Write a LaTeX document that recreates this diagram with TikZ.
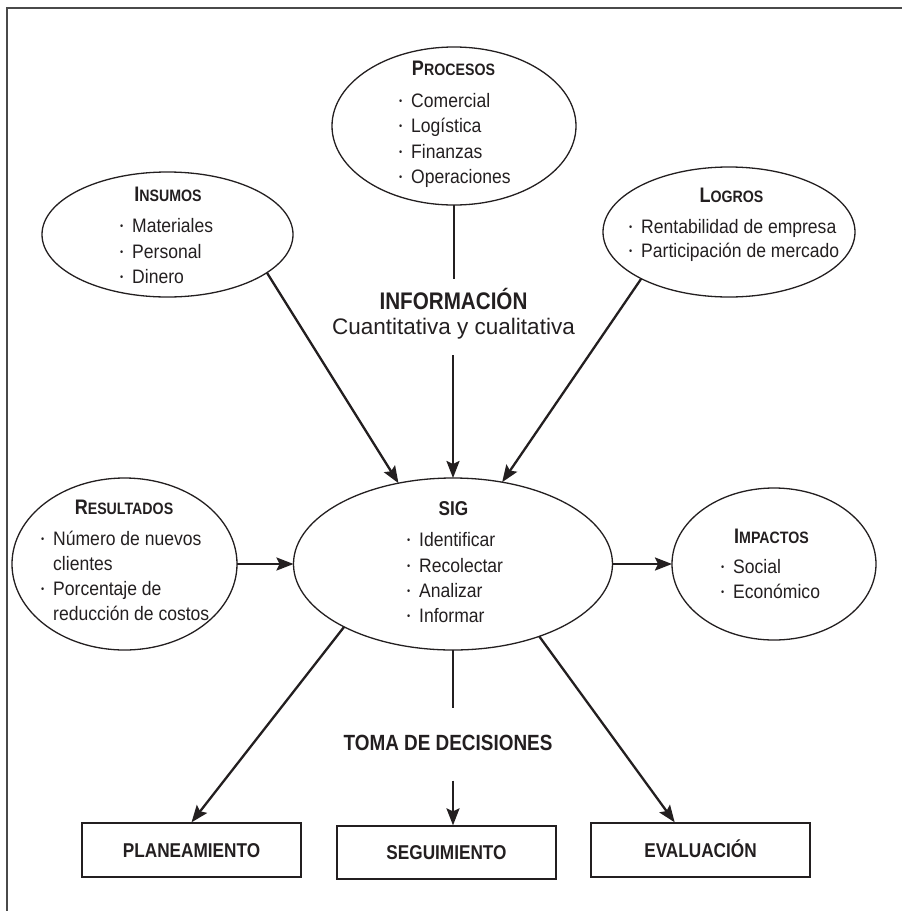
\documentclass[tikz,border=0pt]{standalone}
\usepackage{fontspec}
\setmainfont{Liberation Sans}
\newfontfamily\narrowfont{Liberation Sans}[FakeStretch=0.9]
\newfontfamily\condfont{Liberation Sans}[FakeStretch=0.86]
\usetikzlibrary{shapes.geometric,arrows.meta,calc}

\definecolor{ink}{HTML}{231F20}
\definecolor{framegray}{HTML}{4A4A4A}

% body text, list bullet and small-caps style headings
\newcommand\bodysize{\narrowfont\fontsize{19.5}{23}\selectfont}
\newcommand\blt{\llap{\raisebox{2.4pt}{\fontsize{10}{10}\selectfont\textbullet}\hspace{9pt}}}
\newcommand\hdr[2]{{\fontsize{21}{21}\selectfont #1}{\fontsize{16.5}{16.5}\selectfont #2}}

\tikzset{
  ell/.style={ellipse, draw=ink, line width=1.3pt, inner sep=0pt, outer sep=0pt},
  entry/.style={anchor=base west, inner sep=0pt, font=\bodysize, text=ink},
  head/.style={anchor=base, inner sep=0pt, font=\condfont\bfseries, text=ink},
  stagebox/.style={draw=ink, line width=1.3pt, minimum width=219pt, minimum height=54pt,
    inner sep=0pt, text height=14.3pt, text depth=0pt,
    font=\condfont\bfseries\fontsize{20}{20}\selectfont, text=ink},
  link/.style={draw=ink, line width=2.3pt, -{Stealth[length=17pt,width=13pt,inset=3pt]}},
  bar/.style={draw=ink, line width=2.3pt},
  frame/.style={draw=framegray, line width=2pt}
}

\begin{document}
\begin{tikzpicture}[x=1pt,y=-1pt]
\useasboundingbox (0,0) rectangle (902,911);

% page frame (top and left rules)
\draw[frame] (7,911) -- (7,8) -- (902,8);

% ellipses
\node[ell, minimum width=244pt, minimum height=158pt] (proc) at (454,126) {};
\node[ell, minimum width=251pt, minimum height=125pt] (ins) at (167.5,234.5) {};
\node[ell, minimum width=252pt, minimum height=130pt] (log) at (729,232) {};
\node[ell, minimum width=225pt, minimum height=172pt] (res) at (124.5,564) {};
\node[ell, minimum width=319pt, minimum height=172pt] (sig) at (453,564) {};
\node[ell, minimum width=204pt, minimum height=152pt] (imp) at (774,564) {};

% PROCESOS
\node[head] (procH) at (453.5,75) {\hdr{P}{ROCESOS}};
\node[entry] (proc1) at (411,107) {\blt Comercial};
\node[entry] (proc2) at (411,132) {\blt Logística};
\node[entry] (proc3) at (411,158) {\blt Finanzas};
\node[entry] (proc4) at (411,183) {\blt Operaciones};

% INSUMOS
\node[head] (insH) at (168,201) {\hdr{I}{NSUMOS}};
\node[entry] (ins1) at (132,232) {\blt Materiales};
\node[entry] (ins2) at (132,258) {\blt Personal};
\node[entry] (ins3) at (132,283) {\blt Dinero};

% LOGROS
\node[head] (logH) at (731.5,202) {\hdr{L}{OGROS}};
\node[entry] (log1) at (641,233) {\blt Rentabilidad de empresa};
\node[entry] (log2) at (641,257) {\blt Participación de mercado};

% RESULTADOS
\node[head] (resH) at (124,514) {\hdr{R}{ESULTADOS}};
\node[entry] (res1) at (53,545) {\blt Número de nuevos};
\node[entry] (res2) at (53,570) {clientes};
\node[entry] (res3) at (53,595) {\blt Porcentaje de};
\node[entry] (res4) at (53,620) {reducción de costos};

% SIG
\node[head, font=\condfont\bfseries\fontsize{20}{20}\selectfont] (sigH) at (453.5,515) {SIG};
\node[entry] (sig1) at (419,546) {\blt Identificar};
\node[entry] (sig2) at (419,572) {\blt Recolectar};
\node[entry] (sig3) at (419,597) {\blt Analizar};
\node[entry] (sig4) at (419,622) {\blt Informar};

% IMPACTOS
\node[head] (impH) at (771.5,543) {\hdr{I}{MPACTOS}};
\node[entry] (imp1) at (733,573) {\blt Social};
\node[entry] (imp2) at (733,598) {\blt Económico};

% middle labels
\node[anchor=base, inner sep=0pt, text height=17.5pt, text depth=5pt, inner ysep=12.5pt,
      font=\condfont\bfseries\fontsize{24}{24}\selectfont, text=ink] (info1) at (453.5,309) {INFORMACIÓN};
\node[anchor=base, inner sep=0pt, text height=16pt, text depth=5pt, inner ysep=16pt,
      font=\fontsize{22.5}{22.5}\selectfont, text=ink] (info2) at (453.5,334) {Cuantitativa y cualitativa};
\node[anchor=base, inner sep=0pt, text height=16.5pt, text depth=5.5pt, inner ysep=25pt,
      font=\condfont\bfseries\fontsize{22}{22}\selectfont, text=ink] (toma) at (448,750) {TOMA DE DECISIONES};

% decision stages
\node[stagebox] (plan) at (191.5,850) {PLANEAMIENTO};
\node[stagebox, minimum height=53pt] (seg) at (446.5,852.5) {SEGUIMIENTO};
\node[stagebox] (eval) at (700.5,850) {EVALUACIÓN};

% connectors into SIG
\draw[link] (ins.-21) -- (sig.124);
\draw[bar] (proc.south) -- (proc.south |- info1.north);
\draw[link] (sig.north |- info2.south) -- (sig.north);
\draw[link] (log.208) -- (sig.59);
\draw[link] (res.east) -- (sig.west);
\draw[link] (sig.east) -- (imp.west);

% connectors out of SIG
\draw[link] (sig.210) -- (plan.north);
\draw[bar] (sig.south) -- (sig.south |- toma.north);
\draw[link] (sig.south |- toma.south) -- (sig.south |- seg.north);
\draw[link] (sig.-40) -- (eval.133);
\end{tikzpicture}
\end{document}
